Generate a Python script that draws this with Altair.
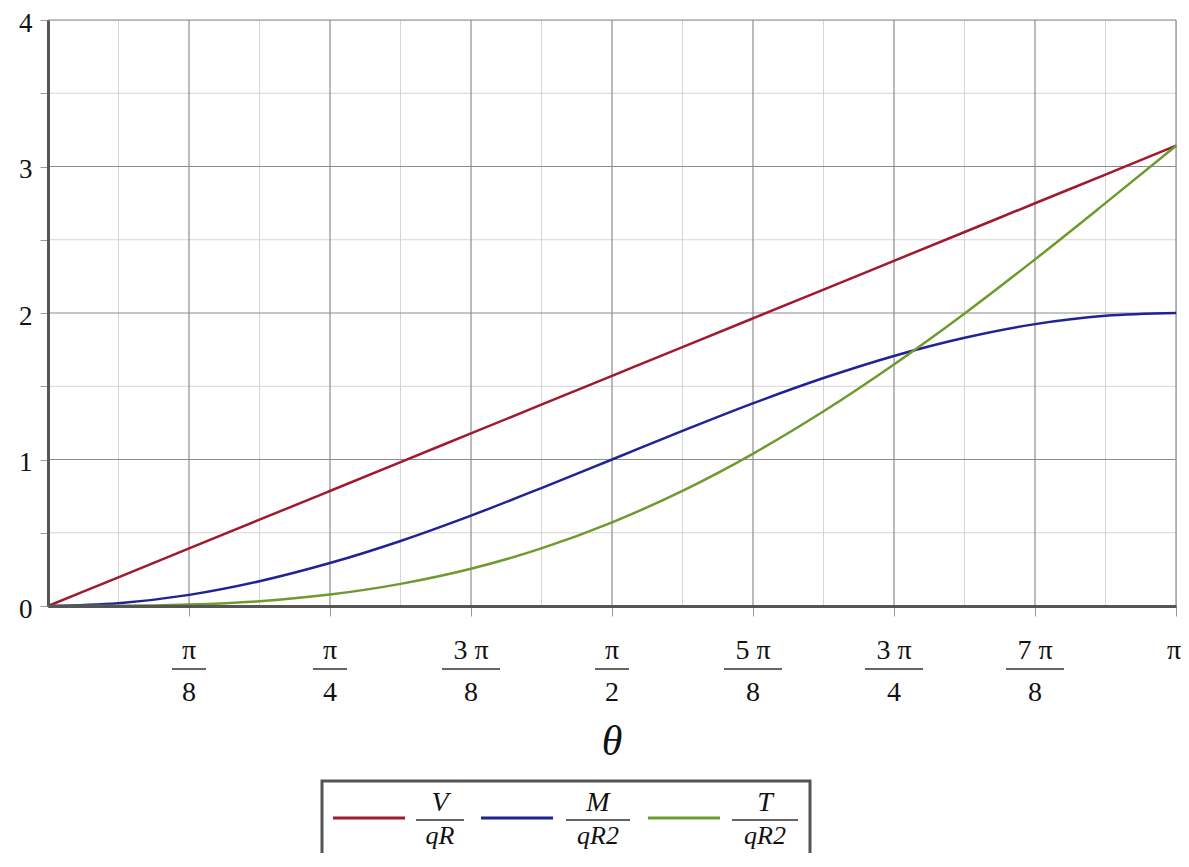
import math
import altair as alt
import pandas as pd

theta = [0.000, 0.196, 0.393, 0.589, 0.785, 0.982, 1.178, 1.374, 1.571,
         1.767, 1.963, 2.160, 2.356, 2.553, 2.749, 2.945, 3.142]
v_vals = [0.000, 0.196, 0.393, 0.589, 0.785, 0.982, 1.178, 1.374, 1.571,
          1.767, 1.963, 2.160, 2.356, 2.553, 2.749, 2.945, 3.142]
m_vals = [0.000, 0.019, 0.076, 0.169, 0.293, 0.444, 0.617, 0.805, 1.000,
          1.195, 1.383, 1.556, 1.707, 1.831, 1.924, 1.981, 2.000]
t_vals = [0.000, 0.001, 0.010, 0.033, 0.078, 0.151, 0.254, 0.393, 0.571,
          0.786, 1.039, 1.329, 1.649, 1.997, 2.366, 2.750, 3.142]

series_keys = ["V", "M", "T"]
series_num = ["V", "M", "T"]
series_den = ["qR", "qR2", "qR2"]
series_colors = ["#a01a2e", "#1f2396", "#6f9a2e"]

tick_num = ["π", "π", "3 π", "π", "5 π", "3 π", "7 π", "π"]
tick_den = ["8", "4", "8", "2", "8", "4", "8", ""]
tick_pos = [k * math.pi / 8 for k in range(1, 9)]
minor_x = [k * math.pi / 16 for k in range(1, 16, 2)]
y_major = [1, 2, 3, 4]
y_minor = [0.5, 1.5, 2.5, 3.5]
y_ticks = [0, 0.5, 1, 1.5, 2, 2.5, 3, 3.5, 4]

# ---- tables ----
rows = []
for key, vals in zip(series_keys, [v_vals, m_vals, t_vals]):
    for th, v in zip(theta, vals):
        rows.append({"theta": th, "value": v, "series": key})
df = pd.DataFrame(rows)

tick_df = pd.DataFrame({"theta": tick_pos, "num": tick_num, "den": tick_den})
gx_major = pd.DataFrame({"theta": tick_pos})
gx_minor = pd.DataFrame({"theta": minor_x})
gy_major = pd.DataFrame({"value": y_major})
gy_minor = pd.DataFrame({"value": y_minor})

SERIF = "Liberation Serif"
TOP = 2  # extra offset so that the plot top sits at the same page row
xs = alt.Scale(domain=[0, math.pi], nice=False, zero=False)
ys = alt.Scale(domain=[0, 4], nice=False)
x_axis = alt.Axis(values=tick_pos, labels=False, title=None, grid=False,
                  domainColor="#555555", domainWidth=3, tickColor="#9a9a9a",
                  tickSize=10, tickWidth=1, zindex=1)
y_axis = alt.Axis(values=y_ticks, title=None, grid=False,
                  labelExpr="datum.value % 1 == 0 ? format(datum.value, 'd') : ''",
                  labelFont=SERIF, labelFontSize=27, labelColor="#111111",
                  labelPadding=8, labelOffset=3, domainColor="#555555", domainWidth=3,
                  tickColor="#9a9a9a", tickSize=8, tickWidth=1, zindex=1)
X = alt.X("theta:Q", scale=xs, axis=x_axis)
Y = alt.Y("value:Q", scale=ys, axis=y_axis)

grid_minor_v = alt.Chart(gx_minor).mark_rule(color="#d4d4d4", strokeWidth=1).encode(x=X)
grid_minor_h = alt.Chart(gy_minor).mark_rule(color="#d4d4d4", strokeWidth=1).encode(y=Y)
grid_major_v = alt.Chart(gx_major).mark_rule(color="#8c8c8c", strokeWidth=1.2).encode(x=X)
grid_major_h = alt.Chart(gy_major).mark_rule(color="#8c8c8c", strokeWidth=1.2).encode(y=Y)

lines = alt.Chart(df).mark_line(strokeWidth=2.5, interpolate="monotone").encode(
    x=X, y=Y,
    color=alt.Color("series:N", scale=alt.Scale(domain=series_keys, range=series_colors),
                    legend=None),
    detail="series:N",
)

num_text = alt.Chart(tick_df).transform_filter("datum.den != ''").mark_text(
    font=SERIF, fontSize=28, baseline="middle", color="#111111").encode(
    x=X, y=alt.value(633 - TOP), text="num:N")
end_text = alt.Chart(tick_df).transform_filter("datum.den == ''").mark_text(
    font=SERIF, fontSize=28, baseline="middle", color="#111111", dx=-2).encode(
    x=X, y=alt.value(633 - TOP), text="num:N")
den_text = alt.Chart(tick_df).transform_filter("datum.den != ''").mark_text(
    font=SERIF, fontSize=28, baseline="middle", color="#111111").encode(
    x=X, y=alt.value(675 - TOP), text="den:N")
bar_short = alt.Chart(tick_df).transform_filter(
    "datum.den != '' && length(datum.num) == 1").mark_rule(
    color="#333333", strokeWidth=1.5, xOffset=-17, x2Offset=17).encode(
    x=X, x2="theta:Q", y=alt.value(651 - TOP))
bar_long = alt.Chart(tick_df).transform_filter(
    "datum.den != '' && length(datum.num) > 1").mark_rule(
    color="#333333", strokeWidth=1.5, xOffset=-29, x2Offset=29).encode(
    x=X, x2="theta:Q", y=alt.value(651 - TOP))

x_title = alt.Chart(pd.DataFrame({"t": ["θ"]})).mark_text(
    font=SERIF, fontSize=42, fontStyle="italic", baseline="middle", color="#111111").encode(
    x=alt.value(564), y=alt.value(724 - TOP), text="t:N")

# ---- custom legend ----
legend_layers = [
    alt.Chart(pd.DataFrame({"a": [0]})).mark_rect(
        fill="white", stroke="#555555", strokeWidth=3).encode(
        x=alt.value(274), x2=alt.value(762), y=alt.value(763 - TOP), y2=alt.value(900))
]
leg_line_x = [285, 433, 600]
leg_lab_x = [392, 550, 717]
leg_bar_w = [48, 64, 66]
for i in range(3):
    one = pd.DataFrame({"num": [series_num[i]], "den": [series_den[i]]})
    base = alt.Chart(one)
    legend_layers.append(base.mark_rule(color=series_colors[i], strokeWidth=3).encode(
        x=alt.value(leg_line_x[i]), x2=alt.value(leg_line_x[i] + 72), y=alt.value(800 - TOP)))
    legend_layers.append(base.mark_text(font=SERIF, fontSize=28, fontStyle="italic",
                                        baseline="middle", color="#111111").encode(
        x=alt.value(leg_lab_x[i]), y=alt.value(785 - TOP), text="num:N"))
    legend_layers.append(base.mark_rule(color="#333333", strokeWidth=1.5).encode(
        x=alt.value(leg_lab_x[i] - leg_bar_w[i] / 2), x2=alt.value(leg_lab_x[i] + leg_bar_w[i] / 2),
        y=alt.value(802 - TOP)))
    legend_layers.append(base.mark_text(font=SERIF, fontSize=26, fontStyle="italic",
                                        baseline="middle", color="#111111").encode(
        x=alt.value(leg_lab_x[i]), y=alt.value(818 - TOP), text="den:N"))

chart = alt.layer(
    grid_minor_v, grid_minor_h, grid_major_v, grid_major_h, lines,
    num_text, end_text, den_text, bar_short, bar_long, x_title, *legend_layers
).properties(
    width=1128, height=588 - TOP,
    autosize=alt.AutoSizeParams(type="none"),
    padding={"left": 40, "top": 10 + TOP, "right": 5, "bottom": 247},
).configure_view(stroke=None).configure(background="white")

chart.save("out.html", embed_options={"renderer": "svg", "actions": False})
